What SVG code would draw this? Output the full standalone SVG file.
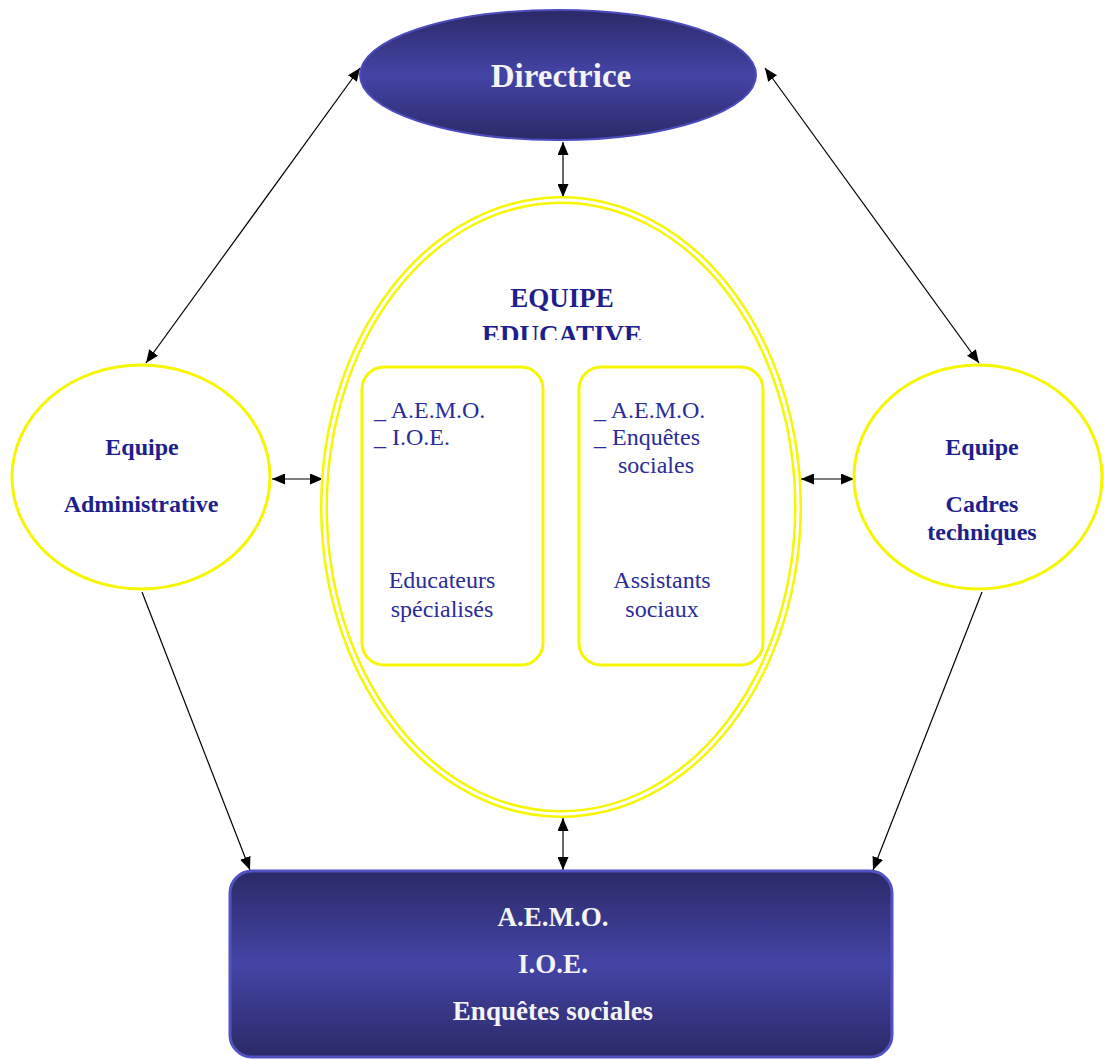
<svg xmlns="http://www.w3.org/2000/svg" width="1104" height="1059" viewBox="0 0 1104 1059">
<defs>
<linearGradient id="gBlue" x1="0" y1="0" x2="0" y2="1">
<stop offset="0" stop-color="#2a2a68"/>
<stop offset="0.5" stop-color="#4444a6"/>
<stop offset="1" stop-color="#2a2a68"/>
</linearGradient>
<marker id="ah" viewBox="0 0 13 11" refX="13" refY="5.5" markerWidth="13" markerHeight="11" markerUnits="userSpaceOnUse" orient="auto-start-reverse">
<path d="M0,0 L13,5.5 L0,11 Z" fill="#000"/>
</marker>
<clipPath id="clipEdu"><rect x="330" y="270" width="460" height="70"/></clipPath>
</defs>
<style>
.conn{stroke:#000;stroke-width:1.2;fill:none}
.yel{fill:#fff;stroke:#f6f600;stroke-width:3}
.tb{font-family:"Liberation Serif","Times New Roman",serif;font-weight:bold;fill:#1e1e8c;text-anchor:middle}
.tw{font-family:"Liberation Serif","Times New Roman",serif;font-weight:bold;fill:#f4f4f4;text-anchor:middle}
.tr{font-family:"Liberation Serif","Times New Roman",serif;fill:#2b2b9b;font-size:24px}
</style>
<rect width="1104" height="1059" fill="#fff"/>

<g id="connectors">
<line class="conn" x1="146" y1="363" x2="360" y2="68" marker-start="url(#ah)" marker-end="url(#ah)"/>
<line class="conn" x1="765" y1="68" x2="979" y2="363" marker-start="url(#ah)" marker-end="url(#ah)"/>
<line class="conn" x1="563" y1="142" x2="563" y2="197" marker-start="url(#ah)" marker-end="url(#ah)"/>
<line class="conn" x1="272" y1="479" x2="323" y2="479" marker-start="url(#ah)" marker-end="url(#ah)"/>
<line class="conn" x1="801" y1="479" x2="854" y2="479" marker-start="url(#ah)" marker-end="url(#ah)"/>
<line class="conn" x1="563" y1="818" x2="563" y2="870" marker-start="url(#ah)" marker-end="url(#ah)"/>
<line class="conn" x1="142" y1="592" x2="250" y2="870" marker-end="url(#ah)"/>
<line class="conn" x1="982" y1="592" x2="873" y2="870" marker-end="url(#ah)"/>
</g>

<g id="directrice">
<ellipse cx="558" cy="75" rx="198" ry="65" fill="url(#gBlue)" stroke="#4b4bbd" stroke-width="2"/>
<text class="tw" x="561" y="87" font-size="33">Directrice</text>
</g>

<g id="equipe-educative">
<ellipse cx="561" cy="507" rx="237" ry="307" fill="#fff" stroke="#f6f600" stroke-width="8"/>
<ellipse cx="561" cy="507" rx="237" ry="307" fill="none" stroke="#fff" stroke-width="3"/>
<text class="tb" x="562" y="307" font-size="27">EQUIPE</text>
<text class="tb" x="562" y="344" font-size="27" clip-path="url(#clipEdu)">EDUCATIVE</text>
</g>

<g id="educateurs">
<rect x="362" y="367" width="181" height="298" rx="22" class="yel" stroke-width="2"/>
<text class="tr" x="374" y="418">_ A.E.M.O.</text>
<text class="tr" x="374" y="445">_ I.O.E.</text>
<text class="tr" x="442" y="588" text-anchor="middle">Educateurs</text>
<text class="tr" x="442" y="617" text-anchor="middle">spécialisés</text>
</g>

<g id="assistants">
<rect x="579" y="367" width="184" height="298" rx="22" class="yel" stroke-width="2"/>
<text class="tr" x="594" y="418">_ A.E.M.O.</text>
<text class="tr" x="594" y="445">_ Enquêtes</text>
<text class="tr" x="618" y="473">sociales</text>
<text class="tr" x="662" y="588" text-anchor="middle">Assistants</text>
<text class="tr" x="662" y="617" text-anchor="middle">sociaux</text>
</g>

<g id="equipe-administrative">
<ellipse cx="141" cy="477" rx="129" ry="112" class="yel"/>
<text class="tb" x="142" y="455" font-size="24">Equipe</text>
<text class="tb" x="141" y="512" font-size="24">Administrative</text>
</g>

<g id="equipe-cadres">
<ellipse cx="978" cy="477" rx="124" ry="112" class="yel"/>
<text class="tb" x="982" y="455" font-size="24">Equipe</text>
<text class="tb" x="982" y="512" font-size="24">Cadres</text>
<text class="tb" x="982" y="540" font-size="24">techniques</text>
</g>

<g id="services">
<rect x="230" y="871" width="662" height="186" rx="22" fill="url(#gBlue)" stroke="#5252c4" stroke-width="3"/>
<text class="tw" x="553" y="926" font-size="27">A.E.M.O.</text>
<text class="tw" x="553" y="973" font-size="27">I.O.E.</text>
<text class="tw" x="553" y="1020" font-size="27">Enquêtes sociales</text>
</g>
</svg>
